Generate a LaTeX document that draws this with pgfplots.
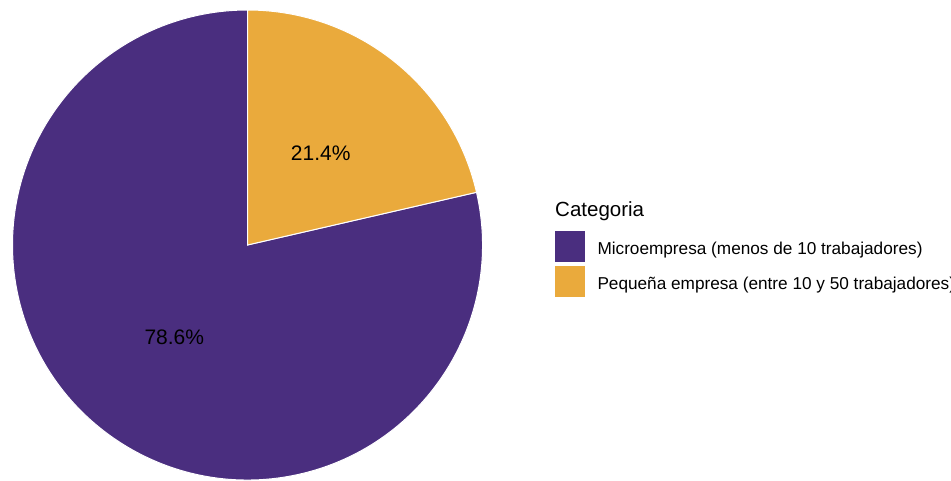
\documentclass[border=0pt]{standalone}
\usepackage{pgfplots}
\pgfplotsset{compat=1.18}
\usepackage{fontspec}
\setmainfont{Liberation Sans}
\definecolor{micro}{HTML}{4A2E7F}
\definecolor{peq}{HTML}{EAAA3C}
% shares (percent)
\def\shareMicro{78.6}
\def\sharePeq{21.4}
\pgfmathsetmacro\angP{3.6*\sharePeq}
\pgfmathsetmacro\angM{3.6*\shareMicro}
\pgfmathsetmacro\splitA{90-\angP}
\pgfmathsetmacro\midP{90-\angP/2}
\pgfmathsetmacro\midM{\splitA-\angM/2}
\pgfmathsetmacro\endM{\splitA-\angM}
\begin{document}
\begin{tikzpicture}
\useasboundingbox (0pt,0pt) rectangle (951pt,480pt);
\clip (0pt,0pt) rectangle (951pt,480pt);
\begin{axis}[at={(247.5pt,235pt)}, anchor=center, scale only axis,
  width=470pt, height=470pt, xmin=-1, xmax=1, ymin=-1, ymax=1,
  hide axis, clip=false,
  legend style={at={(1.15426,0.5297)}, anchor=north west, draw=none, fill=none,
    inner sep=0pt, outer sep=0pt, row sep=4pt, column sep=10.5pt,
    font=\fontsize{17.2}{20}\selectfont,
    cells={anchor=west}},
  legend image code/.code={\fill[#1, draw=none] (0pt,-13.5pt) rectangle (30pt,17.5pt);},
]
\fill[micro, draw=white, line width=1pt] (axis cs:0,0) -- (axis cs:{cos(\splitA)},{sin(\splitA)}) arc[start angle=\splitA, end angle=\endM, radius=235pt] -- cycle;
\fill[peq, draw=white, line width=1pt] (axis cs:0,0) -- (axis cs:0,1) arc[start angle=90, end angle=\splitA, radius=235pt] -- cycle;
\node[font=\fontsize{21}{25}\selectfont] at (axis cs:{0.5*cos(\midP)},{0.5*sin(\midP)}) {21.4\%};
\node[font=\fontsize{21}{25}\selectfont] at (axis cs:{0.5*cos(\midM)},{0.5*sin(\midM)}) {78.6\%};
\addlegendimage{fill=micro}
\addlegendentry{Microempresa (menos de 10 trabajadores)}
\addlegendimage{fill=peq}
\addlegendentry{Pequeña empresa (entre 10 y 50 trabajadores)}
\end{axis}
\node[anchor=base west, font=\fontsize{20.5}{24}\selectfont, inner sep=0pt] at (555pt,263.3pt) {Categoria};
\end{tikzpicture}
\end{document}
